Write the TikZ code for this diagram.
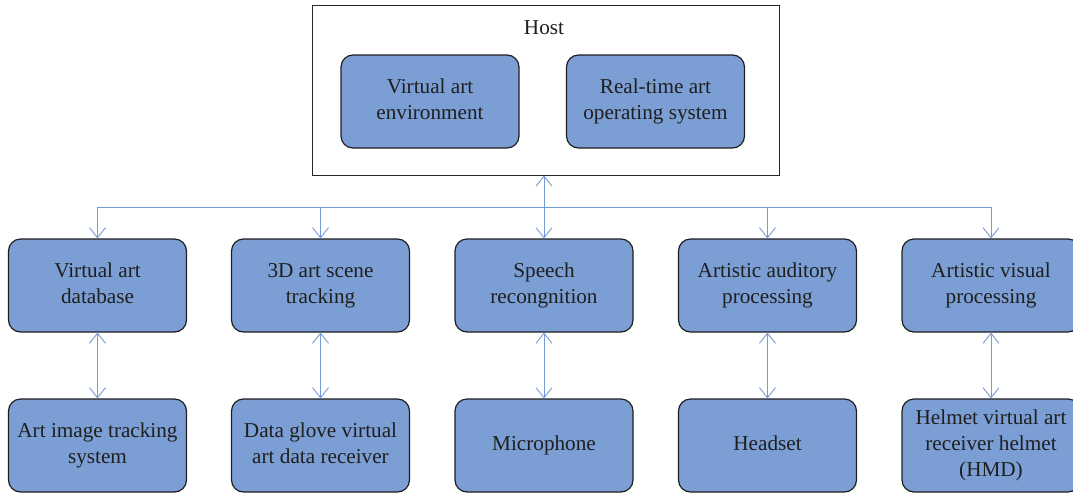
\documentclass[tikz,border=0pt]{standalone}
\usepackage{fontspec}
\setmainfont{Liberation Serif}
\usetikzlibrary{arrows.meta}
\definecolor{boxfill}{RGB}{123,158,212}
\definecolor{boxedge}{RGB}{30,30,30}
\definecolor{linkblue}{RGB}{118,154,214}
\tikzset{
  blk/.style={draw=boxedge, line width=1.2pt, fill=boxfill, rounded corners=12pt,
    minimum width=178pt, minimum height=93pt, align=center, inner sep=1pt,
    font=\fontsize{21.2}{26}\selectfont, text=black!88},
  link/.style={draw=linkblue, line width=0.9pt},
  tip/.style={-{Straight Barb[length=10pt,width=16pt]}},
  dtip/.style={{Straight Barb[length=10pt,width=16pt]}-{Straight Barb[length=10pt,width=16pt]}}
}
\begin{document}
\begin{tikzpicture}[x=1pt,y=-1pt]
\useasboundingbox (0,0) rectangle (1073,493);
% host
\node[draw=black!85, line width=1pt, minimum width=467pt, minimum height=170pt, inner sep=0pt] (host) at (545.5,90) {};
\node[font=\fontsize{21.2}{26}\selectfont, text=black!88] (hostlbl) at (544,28) {Host};
\node[blk] (env) at (430,101.5) {\strut Virtual art\\\strut environment};
\node[blk] (ros) at (655.5,101.5) {\strut Real-time art\\\strut operating system};
% row 1
\node[blk] (a1) at (97.5,285.5) {\strut Virtual art\\\strut database};
\node[blk] (a2) at (320.5,285.5) {\strut 3D art scene\\\strut tracking};
\node[blk] (a3) at (544,285.5) {\strut Speech\\\strut recongnition};
\node[blk] (a4) at (767.5,285.5) {\strut Artistic auditory\\\strut processing};
\node[blk] (a5) at (991,285.5) {\strut Artistic visual\\\strut processing};
% row 2
\node[blk] (b1) at (97.5,445.5) {\strut Art image tracking\\\strut system};
\node[blk] (b2) at (320.5,445.5) {\strut Data glove virtual\\\strut art data receiver};
\node[blk] (b3) at (544,445.5) {\strut Microphone};
\node[blk] (b4) at (767.5,445.5) {\strut Headset};
\node[blk] (b5) at (991,445.5) {\strut Helmet virtual art\\\strut receiver helmet\\\strut (HMD)};
% bus
\coordinate (busL) at (97.5,207);
\coordinate (busR) at (991,207);
\draw[link] (busL) -- (busR);
\draw[link,tip] (busL) -- (a1.north);
\draw[link,tip] (a2.north |- busL) -- (a2.north);
\draw[link,tip] (a4.north |- busL) -- (a4.north);
\draw[link,tip] (busR) -- (a5.north);
\draw[link,dtip] (host.south -| a3.north) -- (a3.north);
% vertical links
\foreach \i in {1,...,5}{\draw[link,dtip] (a\i.south) -- (b\i.north);}
\end{tikzpicture}
\end{document}
